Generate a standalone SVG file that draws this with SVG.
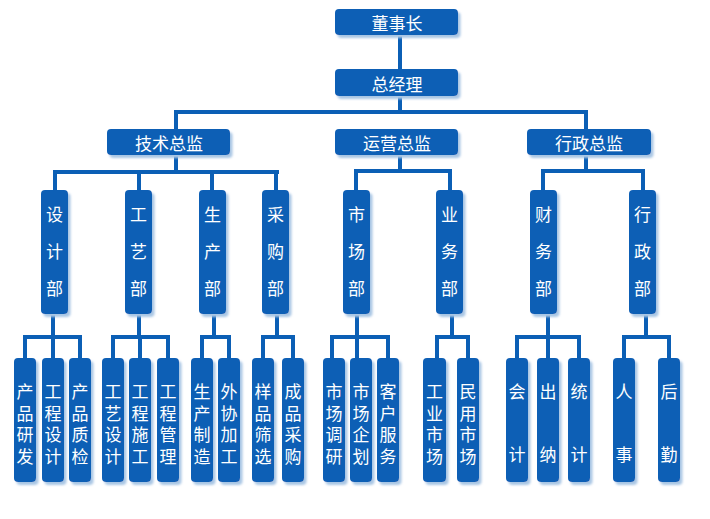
<svg xmlns="http://www.w3.org/2000/svg" width="710" height="519" viewBox="0 0 710 519">
<defs>
<filter id="sh" x="-20%" y="-20%" width="160%" height="160%">
<feDropShadow dx="2.5" dy="3" stdDeviation="1" flood-color="#a9c6e4" flood-opacity="1"/>
</filter>
<style>
.b{fill:#0b5fb5;filter:url(#sh)}
.t{fill:#fff;font-family:"Noto Sans CJK SC","Noto Sans",sans-serif;font-size:17px;text-anchor:middle;dominant-baseline:central}
.c{stroke:#0b5fb5;stroke-width:4;fill:none}
</style>
</defs>
<rect width="710" height="519" fill="#fff"/>
<g id="connectors" class="c">
<path d="M400 35V69"/>
<path d="M400 96V112M174 112H588M176 112V129M586 112V129"/>
<path d="M176 155V172M53 172H279M55 172V190M139 172V190M212 172V190M276 172V190"/>
<path d="M400 155V171M354 171H452M356 171V190M450 171V190"/>
<path d="M586 154V171M541 171H645M543 171V190M643 171V190"/>
<path d="M53 314V337M23 337H82M25 337V358M53 337V358M80 337V358"/>
<path d="M139 314V337M111 337H170M113 337V358M140 337V358M168 337V358"/>
<path d="M214 314V337M200 337H231M202 337V358M229 337V358"/>
<path d="M277 314V337M261 337H295M263 337V358M293 337V358"/>
<path d="M357 314V337M330 337H390M332 337V358M357 337V358M388 337V358"/>
<path d="M452 314V337M435 337H470M437 337V358M468 337V358"/>
<path d="M548 314V337M515 337H581M517 337V358M548 337V358M579 337V358"/>
<path d="M646 314V337M622 337H671M624 337V358M669 337V358"/>
</g>
<g id="n-dsz"><rect class="b" x="335" y="9" width="123" height="26" rx="4"/><text class="t" x="397" y="22">董事长</text></g>
<g id="n-zjl"><rect class="b" x="335" y="69" width="123" height="27" rx="4"/><text class="t" x="397" y="83">总经理</text></g>
<g id="n-js"><rect class="b" x="107" y="129" width="123" height="26" rx="4"/><text class="t" x="169" y="142">技术总监</text></g>
<g id="n-yy"><rect class="b" x="335" y="129" width="123" height="26" rx="4"/><text class="t" x="397" y="142">运营总监</text></g>
<g id="n-xz"><rect class="b" x="527" y="129" width="124" height="26" rx="4"/><text class="t" x="589" y="142">行政总监</text></g>

<g id="d-sj"><rect class="b" x="41" y="190" width="27" height="124" rx="4"/><text class="t"><tspan x="54.5" y="213">设</tspan><tspan x="54.5" y="250">计</tspan><tspan x="54.5" y="287">部</tspan></text></g>
<g id="d-gy"><rect class="b" x="125" y="190" width="27" height="124" rx="4"/><text class="t"><tspan x="138.5" y="213">工</tspan><tspan x="138.5" y="250">艺</tspan><tspan x="138.5" y="287">部</tspan></text></g>
<g id="d-sc"><rect class="b" x="199" y="190" width="27" height="124" rx="4"/><text class="t"><tspan x="212.5" y="213">生</tspan><tspan x="212.5" y="250">产</tspan><tspan x="212.5" y="287">部</tspan></text></g>
<g id="d-cg"><rect class="b" x="262" y="190" width="27" height="124" rx="4"/><text class="t"><tspan x="275.5" y="213">采</tspan><tspan x="275.5" y="250">购</tspan><tspan x="275.5" y="287">部</tspan></text></g>
<g id="d-scb"><rect class="b" x="343" y="190" width="27" height="124" rx="4"/><text class="t"><tspan x="356.5" y="213">市</tspan><tspan x="356.5" y="250">场</tspan><tspan x="356.5" y="287">部</tspan></text></g>
<g id="d-yw"><rect class="b" x="436" y="190" width="27" height="124" rx="4"/><text class="t"><tspan x="449.5" y="213">业</tspan><tspan x="449.5" y="250">务</tspan><tspan x="449.5" y="287">部</tspan></text></g>
<g id="d-cw"><rect class="b" x="530" y="190" width="27" height="124" rx="4"/><text class="t"><tspan x="543.5" y="213">财</tspan><tspan x="543.5" y="250">务</tspan><tspan x="543.5" y="287">部</tspan></text></g>
<g id="d-xzb"><rect class="b" x="629" y="190" width="27" height="124" rx="4"/><text class="t"><tspan x="642.5" y="213">行</tspan><tspan x="642.5" y="250">政</tspan><tspan x="642.5" y="287">部</tspan></text></g>

<g id="l1"><rect class="b" x="14" y="358" width="22" height="124" rx="4"/><text class="t"><tspan x="25" y="390">产</tspan><tspan x="25" y="411.5">品</tspan><tspan x="25" y="433">研</tspan><tspan x="25" y="454.5">发</tspan></text></g>
<g id="l2"><rect class="b" x="42" y="358" width="22" height="124" rx="4"/><text class="t"><tspan x="53" y="390">工</tspan><tspan x="53" y="411.5">程</tspan><tspan x="53" y="433">设</tspan><tspan x="53" y="454.5">计</tspan></text></g>
<g id="l3"><rect class="b" x="69" y="358" width="22" height="124" rx="4"/><text class="t"><tspan x="80" y="390">产</tspan><tspan x="80" y="411.5">品</tspan><tspan x="80" y="433">质</tspan><tspan x="80" y="454.5">检</tspan></text></g>
<g id="l4"><rect class="b" x="102" y="358" width="22" height="124" rx="4"/><text class="t"><tspan x="113" y="390">工</tspan><tspan x="113" y="411.5">艺</tspan><tspan x="113" y="433">设</tspan><tspan x="113" y="454.5">计</tspan></text></g>
<g id="l5"><rect class="b" x="129" y="358" width="22" height="124" rx="4"/><text class="t"><tspan x="140" y="390">工</tspan><tspan x="140" y="411.5">程</tspan><tspan x="140" y="433">施</tspan><tspan x="140" y="454.5">工</tspan></text></g>
<g id="l6"><rect class="b" x="157" y="358" width="22" height="124" rx="4"/><text class="t"><tspan x="168" y="390">工</tspan><tspan x="168" y="411.5">程</tspan><tspan x="168" y="433">管</tspan><tspan x="168" y="454.5">理</tspan></text></g>
<g id="l7"><rect class="b" x="191" y="358" width="22" height="124" rx="4"/><text class="t"><tspan x="202" y="390">生</tspan><tspan x="202" y="411.5">产</tspan><tspan x="202" y="433">制</tspan><tspan x="202" y="454.5">造</tspan></text></g>
<g id="l8"><rect class="b" x="218" y="358" width="22" height="124" rx="4"/><text class="t"><tspan x="229" y="390">外</tspan><tspan x="229" y="411.5">协</tspan><tspan x="229" y="433">加</tspan><tspan x="229" y="454.5">工</tspan></text></g>
<g id="l9"><rect class="b" x="252" y="358" width="22" height="124" rx="4"/><text class="t"><tspan x="263" y="390">样</tspan><tspan x="263" y="411.5">品</tspan><tspan x="263" y="433">筛</tspan><tspan x="263" y="454.5">选</tspan></text></g>
<g id="l10"><rect class="b" x="282" y="358" width="22" height="124" rx="4"/><text class="t"><tspan x="293" y="390">成</tspan><tspan x="293" y="411.5">品</tspan><tspan x="293" y="433">采</tspan><tspan x="293" y="454.5">购</tspan></text></g>
<g id="l11"><rect class="b" x="323" y="358" width="22" height="124" rx="4"/><text class="t"><tspan x="334" y="390">市</tspan><tspan x="334" y="411.5">场</tspan><tspan x="334" y="433">调</tspan><tspan x="334" y="454.5">研</tspan></text></g>
<g id="l12"><rect class="b" x="350" y="358" width="22" height="124" rx="4"/><text class="t"><tspan x="361" y="390">市</tspan><tspan x="361" y="411.5">场</tspan><tspan x="361" y="433">企</tspan><tspan x="361" y="454.5">划</tspan></text></g>
<g id="l13"><rect class="b" x="377" y="358" width="22" height="124" rx="4"/><text class="t"><tspan x="388" y="390">客</tspan><tspan x="388" y="411.5">户</tspan><tspan x="388" y="433">服</tspan><tspan x="388" y="454.5">务</tspan></text></g>
<g id="l14"><rect class="b" x="423" y="358" width="23" height="124" rx="4"/><text class="t"><tspan x="434.5" y="390">工</tspan><tspan x="434.5" y="411.5">业</tspan><tspan x="434.5" y="433">市</tspan><tspan x="434.5" y="454.5">场</tspan></text></g>
<g id="l15"><rect class="b" x="457" y="358" width="22" height="124" rx="4"/><text class="t"><tspan x="468" y="390">民</tspan><tspan x="468" y="411.5">用</tspan><tspan x="468" y="433">市</tspan><tspan x="468" y="454.5">场</tspan></text></g>
<g id="l16"><rect class="b" x="506" y="358" width="22" height="124" rx="4"/><text class="t"><tspan x="517" y="390">会</tspan><tspan x="517" y="453">计</tspan></text></g>
<g id="l17"><rect class="b" x="537" y="358" width="22" height="124" rx="4"/><text class="t"><tspan x="548" y="390">出</tspan><tspan x="548" y="453">纳</tspan></text></g>
<g id="l18"><rect class="b" x="568" y="358" width="22" height="124" rx="4"/><text class="t"><tspan x="579" y="390">统</tspan><tspan x="579" y="453">计</tspan></text></g>
<g id="l19"><rect class="b" x="613" y="358" width="22" height="124" rx="4"/><text class="t"><tspan x="624" y="390">人</tspan><tspan x="624" y="453">事</tspan></text></g>
<g id="l20"><rect class="b" x="658" y="358" width="22" height="124" rx="4"/><text class="t"><tspan x="669" y="390">后</tspan><tspan x="669" y="453">勤</tspan></text></g>
</svg>
